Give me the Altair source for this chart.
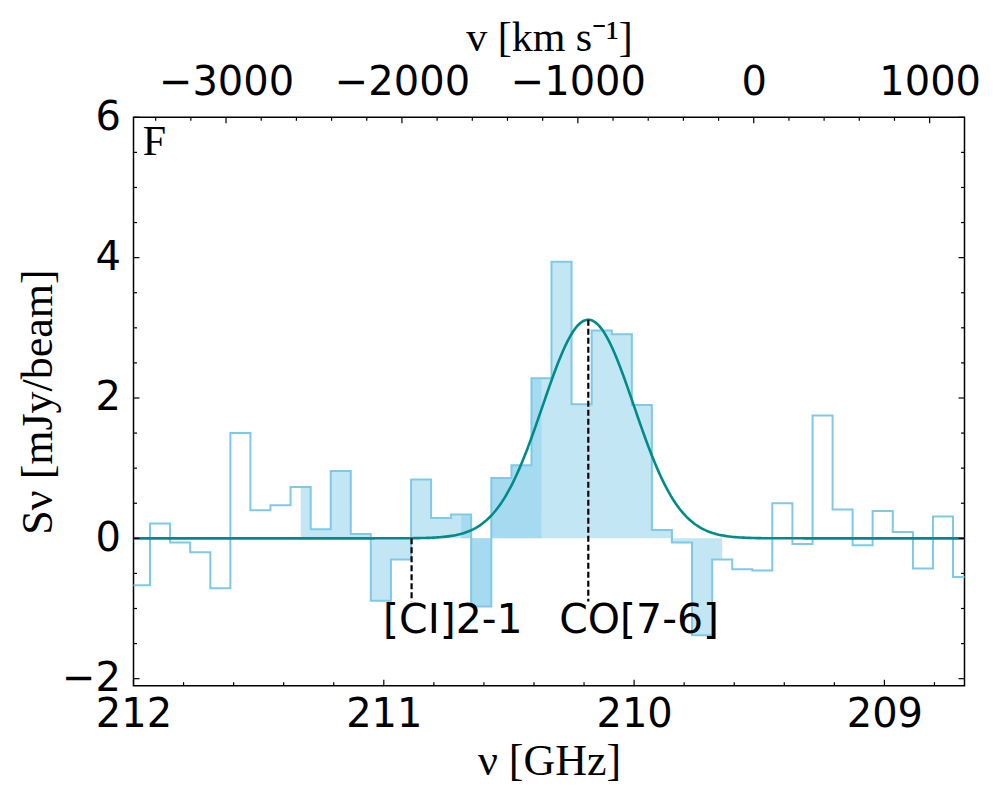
import altair as alt
import numpy as np
import pandas as pd

# ---- spectrum channels (GHz) and flux density (mJy/beam) ----
freq = [212.054, 211.974, 211.894, 211.814, 211.733, 211.653, 211.573, 211.493,
        211.413, 211.332, 211.252, 211.172, 211.092, 211.012, 210.931, 210.851,
        210.771, 210.691, 210.611, 210.530, 210.450, 210.370, 210.290, 210.210,
        210.129, 210.049, 209.969, 209.889, 209.809, 209.728, 209.648, 209.568,
        209.488, 209.408, 209.327, 209.247, 209.167, 209.087, 209.007, 208.926,
        208.846, 208.766, 208.686, 208.606]
flux = [-0.67, -0.67, 0.21, -0.06, -0.20, -0.71, 1.50, 0.40, 0.47, 0.73, 0.13,
        0.96, 0.06, -0.89, -0.30, 0.84, 0.29, 0.34, -0.97, 0.86, 1.04, 2.28,
        3.94, 1.91, 2.96, 2.91, 1.90, 0.12, -0.06, -1.38, -0.30, -0.44, -0.46,
        0.50, -0.08, 1.75, 0.41, -0.10, 0.39, 0.09, -0.43, 0.31, -0.55, -0.55]

# shaded channel ranges (list indices, inclusive)
fill_main = (9, 30)
fill_extra = (17, 21)

# Gaussian fit parameters
g_amp, g_center, g_sigma = 3.115, 210.183, 0.1822

# line markers
line_names = ["[CI]2-1", "CO[7-6]"]
line_nu = [210.889, 210.183]
line_top = [0.0, 3.115]
line_bottom = [-0.9, -0.9]
label_nu = [210.724, 209.980]
label_flux = [-1.355, -1.355]

# axes
x_domain = [212.0, 208.68]
y_domain = [-2.1, 6.0]
v_domain = [-3526, 1198]
x_major = [212, 211, 210, 209]
x_minor = [211.8, 211.6, 211.4, 211.2, 210.8, 210.6, 210.4, 210.2,
           209.8, 209.6, 209.4, 209.2, 208.8]
y_major = [-2, 0, 2, 4, 6]
y_minor = [-1.5, -1, -0.5, 0.5, 1, 1.5, 2.5, 3, 3.5, 4.5, 5, 5.5]
v_major = [-3000, -2000, -1000, 0, 1000]
v_minor = [-3400, -3200, -2800, -2600, -2400, -2200, -1800, -1600, -1400, -1200,
           -800, -600, -400, -200, 200, 400, 600, 800]

W, H = 831, 568.4

df = pd.DataFrame({"nu": freq, "flux": flux})
df_fill1 = df.iloc[fill_main[0]:fill_main[1] + 1]
df_fill2 = df.iloc[fill_extra[0]:fill_extra[1] + 1]

gx = np.linspace(x_domain[0], x_domain[1], 400)
df_gauss = pd.DataFrame({"nu": gx, "flux": g_amp * np.exp(-0.5 * ((gx - g_center) / g_sigma) ** 2)})

df_lines = pd.DataFrame({"nu": line_nu, "flux": line_top, "flux2": line_bottom})
df_labels = pd.DataFrame({"nu": label_nu, "flux": label_flux, "name": line_names})

LABEL_FONT = "DejaVu Sans"
SERIF = "Liberation Serif"

xscale = alt.Scale(domain=x_domain, nice=False, zero=False)
yscale = alt.Scale(domain=y_domain, nice=False, zero=False)

xaxis = alt.Axis(values=x_major, format="d", ticks=False, tickSize=0, domain=False, grid=False,
                 labelPadding=9, labelFont=LABEL_FONT, labelFontSize=40, labelColor="black",
                 title="ν [GHz]", titleFont=SERIF, titleFontSize=44, titleFontWeight="normal",
                 titleColor="black", titleX=W / 2, titleY=76, titleBaseline="middle",
                 labelFlush=False, orient="bottom")
yaxis = alt.Axis(values=y_major, format="d", ticks=False, tickSize=0, domain=False, grid=False,
                 labelPadding=13, labelFont=LABEL_FONT, labelFontSize=40, labelColor="black",
                 title="Sν [mJy/beam]", titleFont=SERIF, titleFontSize=44, titleFontWeight="normal",
                 titleColor="black", titleX=-95, titleY=H / 2, titleBaseline="middle",
                 titleAngle=270, labelFlush=False)
vaxis = alt.Axis(values=v_major, format="d", ticks=False, tickSize=0, domain=False, grid=False,
                 labelPadding=15, labelFont=LABEL_FONT, labelFontSize=40, labelColor="black",
                 title="v [km s⁻¹]", titleFont=SERIF, titleFontSize=42, titleFontWeight="normal",
                 titleColor="black", titleX=W / 2, titleY=-80, titleBaseline="middle",
                 labelFlush=False, orient="top")

X = alt.X("nu:Q", scale=xscale, axis=xaxis)
Y = alt.Y("flux:Q", scale=yscale, axis=yaxis)

fill1 = alt.Chart(df_fill1).mark_area(interpolate="step", color="#87ceeb", opacity=0.5,
                                      clip=True).encode(x=X, y=Y)
fill2 = alt.Chart(df_fill2).mark_area(interpolate="step", color="#87ceeb", opacity=0.5,
                                      clip=True).encode(x=X, y=Y)
outline = alt.Chart(df).mark_line(interpolate="step", color="#7fc9e6", strokeWidth=2,
                                  clip=True).encode(x=X, y=Y)
gauss = alt.Chart(df_gauss).mark_line(color="#008b8b", strokeWidth=2.6, clip=True).encode(x=X, y=Y)
dashed = alt.Chart(df_lines).mark_rule(color="black", strokeWidth=2.2, strokeDash=[6, 3]).encode(
    x=X, y=Y, y2="flux2:Q")
labels = alt.Chart(df_labels).mark_text(font=LABEL_FONT, fontSize=41, color="black",
                                        align="center", baseline="alphabetic").encode(
    x=X, y=Y, text="name:N")
panel = alt.Chart(pd.DataFrame({"nu": [211.963], "flux": [5.46], "t": ["F"]})).mark_text(
    font=SERIF, fontSize=42, color="black", align="left", baseline="alphabetic").encode(
    x=X, y=Y, text="t:N")

def xticks(vals, L):
    return alt.Chart(pd.DataFrame({"nu": vals})).mark_rule(color="black", strokeWidth=1.2).encode(
        x=X, y=alt.value(H), y2=alt.value(H - L))

def yticks(vals, L):
    d = pd.DataFrame({"flux": vals})
    left = alt.Chart(d).mark_rule(color="black", strokeWidth=1.2).encode(
        y=Y, x=alt.value(0), x2=alt.value(L))
    right = alt.Chart(d).mark_rule(color="black", strokeWidth=1.2).encode(
        y=Y, x=alt.value(W), x2=alt.value(W - L))
    return [left, right]

freq_layer = alt.layer(fill1, fill2, outline, gauss, dashed, labels, panel,
                       xticks(x_major, 6), xticks(x_minor, 3.5),
                       *yticks(y_major, 6), *yticks(y_minor, 3.5))

V = alt.X("vel:Q", scale=alt.Scale(domain=v_domain, nice=False, zero=False), axis=vaxis)
vt_major = alt.Chart(pd.DataFrame({"vel": v_major})).mark_rule(color="black", strokeWidth=1.2).encode(
    x=V, y=alt.value(0), y2=alt.value(6))
vt_minor = alt.Chart(pd.DataFrame({"vel": v_minor})).mark_rule(color="black", strokeWidth=1.2).encode(
    x=V, y=alt.value(0), y2=alt.value(3.5))
vel_layer = alt.layer(vt_major, vt_minor)

chart = alt.layer(freq_layer, vel_layer).resolve_scale(x="independent").properties(
    width=W, height=H,
    padding={"left": 125.5, "top": 109.3, "right": 20, "bottom": 100},
    autosize=alt.AutoSizeParams(type="none"),
    background="white",
).configure_view(stroke="black", strokeWidth=1.5)

chart.save("out.html", embed_options={"renderer": "svg", "actions": False})
